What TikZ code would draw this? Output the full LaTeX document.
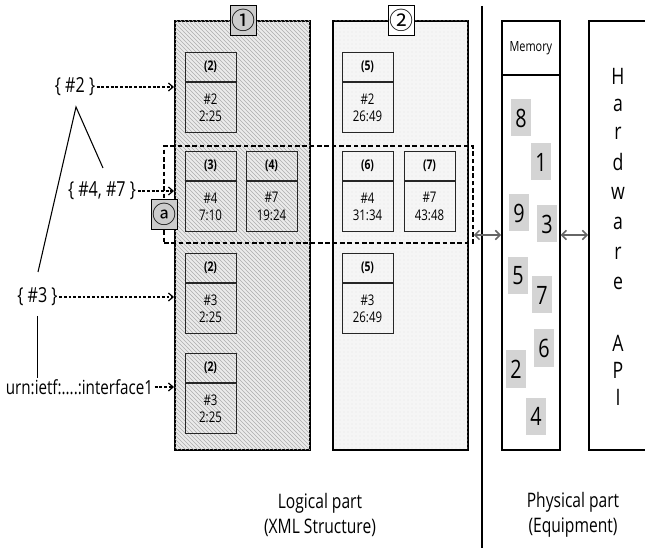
\documentclass[tikz,border=0pt]{standalone}
\usepackage{fontspec}
\setmainfont{Open Sans}[FakeStretch=0.78]
\newfontfamily\symf{Noto Sans CJK KR}
\usetikzlibrary{patterns,arrows.meta,calc}
\newcommand{\cellbox}[6]{%
  \node[cellhdr, anchor=north] (#1h) at (#2,#3) {#4};
  \node[cellbdy, anchor=north] (#1b) at (#1h.south) {#5\\#6};
}
\begin{document}
\begin{tikzpicture}[x=0.75pt,y=-0.75pt,
  panel/.style={draw, line width=1.3pt, minimum width=101.25pt, minimum height=321.75pt, anchor=north west, inner sep=0pt},
  cellhdr/.style={draw=black!85, line width=0.6pt, minimum width=38.25pt, minimum height=22.1pt, inner sep=0pt, font=\fontsize{10}{12}\selectfont\bfseries},
  cellbdy/.style={draw=black!85, line width=0.6pt, minimum width=38.25pt, minimum height=37.1pt, inner sep=0pt, align=center, font=\fontsize{11}{12.8}\selectfont},
  tag/.style={draw, line width=0.6pt, minimum width=19.5pt, minimum height=22.5pt, inner sep=0pt, font=\symf\fontsize{18}{18}\selectfont},
  side/.style={inner sep=1pt, font=\fontsize{15.5}{19}\selectfont},
  dasharr/.style={line width=0.9pt, dash pattern=on 2.2pt off 1.3pt, -{Straight Barb[length=3.5pt,width=6pt]}},
  biarr/.style={draw=black!60, line width=1.1pt, {Straight Barb[length=3.5pt,width=7pt]}-{Straight Barb[length=3.5pt,width=7pt]}},
  memnum/.style={fill=black!17, minimum width=15pt, minimum height=27.75pt, inner sep=0pt, font=\fontsize{19}{19}\selectfont},
  hwl/.style={font=\fontsize{17}{17}\selectfont, inner sep=0pt},
  bottom/.style={align=center, font=\fontsize{15}{19}\selectfont}
]
\useasboundingbox (0,0) rectangle (645,548);

% panels
\node[panel, fill=black!8, postaction={pattern=north west lines, pattern color=black!32}] (p1) at (174,20) {};
\node[panel, fill=black!4, postaction={pattern=dots, pattern color=black!10}] (p2) at (332,20) {};

% cells panel 1
\cellbox{a1}{210.5}{52}{(2)}{\#2}{2:25}
\cellbox{a2}{210.5}{151}{(3)}{\#4}{7:10}
\cellbox{b2}{271.5}{151}{(4)}{\#7}{19:24}
\cellbox{a3}{210.5}{253}{(2)}{\#3}{2:25}
\cellbox{a4}{210.5}{353}{(2)}{\#3}{2:25}
% cells panel 2
\cellbox{c1}{367.5}{52}{(5)}{\#2}{26:49}
\cellbox{c2}{367.5}{151}{(6)}{\#4}{31:34}
\cellbox{d2}{429.5}{151}{(7)}{\#7}{43:48}
\cellbox{c3}{367.5}{253}{(5)}{\#3}{26:49}

% selection box
\node[draw, line width=1.4pt, dash pattern=on 3.5pt off 2pt, minimum width=231.75pt, minimum height=72.75pt, anchor=north west, inner sep=0pt] (sel) at (163,145) {};

% tags
\node[tag, fill=black!20] (t1) at (243,20) {①};
\node[tag, fill=white] (t2) at (401,20) {②};
\node[tag, fill=black!20] (ta) at (164,214.5) {ⓐ};

% divider
\draw[line width=1.3pt] (482,6) -- (482,548);

% memory
\node[draw, line width=1.3pt, minimum width=43.5pt, minimum height=40.5pt, anchor=north west, inner sep=0pt, font=\fontsize{10.5}{12}\selectfont] (memh) at (501,20) {Memory};
\node[draw, line width=1.3pt, minimum width=43.5pt, minimum height=281.25pt, anchor=north west, inner sep=0pt] (memb) at (501,74) {};
\node[memnum] (m8) at (521,118) {8};
\node[memnum] (m1) at (541,162) {1};
\node[memnum] (m9) at (519,213) {9};
\node[memnum] (m3) at (547,224) {3};
\node[memnum] (m5) at (518,276) {5};
\node[memnum] (m7) at (542,295) {7};
\node[memnum] (m6) at (544,348) {6};
\node[memnum] (m2) at (516,369) {2};
\node[memnum] (m4) at (536,416) {4};

% hardware API
\node[draw, line width=1.3pt, minimum width=60pt, minimum height=321.75pt, anchor=north west, inner sep=0pt] (hw) at (588,20) {};
\foreach \l/\yy [count=\i] in {H/76,a/105,r/133,d/162,w/193,a/223,r/253,e/283,A/343,P/370,I/397}
  \node[hwl] (hl\i) at (618,\yy) {\l};

% side labels
\node[side] (l2) at (75,87) {\{ \#2 \}};
\node[side] (l47) at (102,191) {\{ \#4, \#7 \}};
\node[side] (l3) at (37.5,297) {\{ \#3 \}};
\node[side, font=\fontsize{14.6}{18}\selectfont] (lu) at (79.5,387) {urn:ietf:....:interface1};

\draw[dasharr] (l2.east) -- (l2.east -| p1.west);
\draw[dasharr] (l47.east) -- (l47.east -| p1.west);
\draw[dasharr] (l3.east) -- (l3.east -| p1.west);
\draw[dasharr] (lu.east) -- (lu.east -| p1.west);

% tree lines
\coordinate (r0) at (76,107);
\coordinate (r1) at (103,168);
\coordinate (r2) at (38,272);
\coordinate (r3) at (37.5,316);
\draw[line width=0.8pt] (r1) -- (r0) -- (r2);
\draw[line width=0.8pt] (r3) -- (r3 |- lu.north);

% bidirectional arrows
\coordinate (ab) at (0,235);
\draw[biarr] (sel.east |- ab) -- (memb.west |- ab);
\draw[biarr] (memb.east |- ab) -- (hw.west |- ab);

% bottom captions
\node[bottom] (cl) at (320,515) {Logical part\\(XML Structure)};
\node[bottom] (cp) at (573,515) {Physical part\\(Equipment)};
\end{tikzpicture}
\end{document}
